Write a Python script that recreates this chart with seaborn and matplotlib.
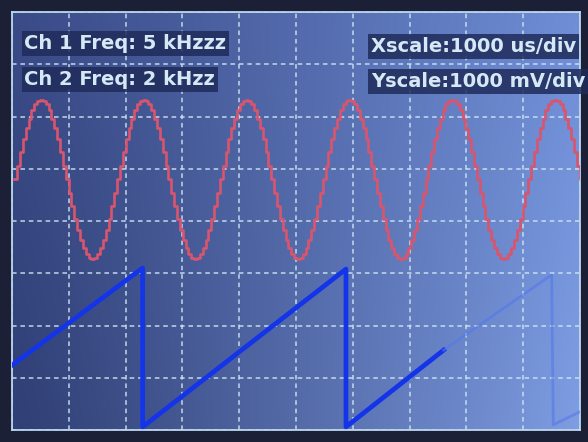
import numpy as np
import pandas as pd
import seaborn as sns
import matplotlib.pyplot as plt
from matplotlib.colors import to_rgb

# channel 1: one period of the stepped sine (divisions), starting at mid level going up
ch1_table = [4.80, 5.06, 5.32, 5.56, 5.78, 5.96, 6.12, 6.23, 6.30, 6.32, 6.30, 6.23,
             6.12, 5.96, 5.78, 5.56, 5.32, 5.06, 4.80, 4.54, 4.28, 4.04, 3.82, 3.64,
             3.48, 3.37, 3.30, 3.28, 3.30, 3.37, 3.48, 3.64, 3.82, 4.04, 4.28, 4.54]
ch1_period = 1.81      # divisions
ch1_start = 0.04       # divisions

# channel 2: sawtooth corner points (divisions)
ch2_time = [0.0, 2.30, 2.30, 5.88, 5.88, 7.60, 7.60, 9.50, 9.53, 10.0]
ch2_volt = [1.24, 3.10, 0.06, 3.08, 0.06, 1.53, 1.53, 2.97, 0.10, 0.35]
ch2_level = ['bright'] * 6 + ['faint'] * 4

labels_left = ['Ch 1 Freq: 5 kHzzz', 'Ch 2 Freq: 2 kHzz']
labels_right = ['Xscale:1000 us/div', 'Yscale:1000 mV/div']

n_div_x = 10
n_div_y = 8

# build channel 1 samples from the table
dt = ch1_period / len(ch1_table)
n = int((n_div_x - ch1_start) / dt) + 2
ch1 = pd.DataFrame({'t': ch1_start + dt * np.arange(n),
                    'v': np.resize(ch1_table, n)})
ch2 = pd.DataFrame({'t': ch2_time, 'v': ch2_volt, 'level': ch2_level})

fig = plt.figure(figsize=(5.88, 4.42), dpi=100, facecolor='#1b2036')
ax = fig.add_axes([12 / 588, 12 / 442, 568 / 588, 418 / 442])

# screen glow (photo lighting): darker left, lighter right
tl, tr = np.array(to_rgb('#3a4b88')), np.array(to_rgb('#6f8ed6'))
bl, br = np.array(to_rgb('#303f75')), np.array(to_rgb('#7e9de2'))
gx = np.linspace(0, 1, 200) ** 1.1
gy = np.linspace(0, 1, 150)[:, None, None]
top = tl + (tr - tl) * gx[:, None]
bot = bl + (br - bl) * gx[:, None]
img = top[None] * (1 - gy) + bot[None] * gy
ax.imshow(img, extent=[0, n_div_x, 0, n_div_y], aspect='auto', zorder=0)

ax.set_xlim(0, n_div_x)
ax.set_ylim(0, n_div_y)
ax.set_xticks(range(n_div_x + 1))
ax.set_yticks(range(n_div_y + 1))
ax.tick_params(length=0, labelbottom=False, labelleft=False)
ax.grid(True, color='#cfe6f5', linestyle=(0, (3, 2.5)), linewidth=1.1, alpha=0.9, zorder=1)
for s in ax.spines.values():
    s.set_color('#bcd6ee')
    s.set_linewidth(1.3)

sns.lineplot(data=ch1, x='t', y='v', ax=ax, color='#d9556d', linewidth=1.9,
             drawstyle='steps-post', estimator=None, sort=False, zorder=3)

bright = ch2[ch2['level'] == 'bright']
faint = ch2[ch2['level'] == 'faint']
sns.lineplot(data=bright, x='t', y='v', ax=ax, color='#1434ea', linewidth=3.4,
             estimator=None, sort=False, zorder=4)
sns.lineplot(data=faint, x='t', y='v', ax=ax, color='#5578ec', linewidth=2.0,
             alpha=0.6, estimator=None, sort=False, zorder=4)

ax.set_xlabel('')
ax.set_ylabel('')

box = dict(boxstyle='square,pad=0.15', facecolor='#1f2b5a', edgecolor='none', alpha=0.85)
for i, txt in enumerate(labels_left):
    ax.text(0.022, 0.925 - i * 0.086, txt, transform=ax.transAxes, va='center', ha='left',
            fontsize=14, fontweight='bold', color='#d4e8f6', bbox=box, zorder=5)
for i, txt in enumerate(labels_right):
    ax.text(0.632, 0.918 - i * 0.084, txt, transform=ax.transAxes, va='center', ha='left',
            fontsize=14, fontweight='bold', color='#d4e8f6', bbox=box, zorder=5,
            clip_on=False)

fig.savefig('out.png', dpi=100, facecolor=fig.get_facecolor())
